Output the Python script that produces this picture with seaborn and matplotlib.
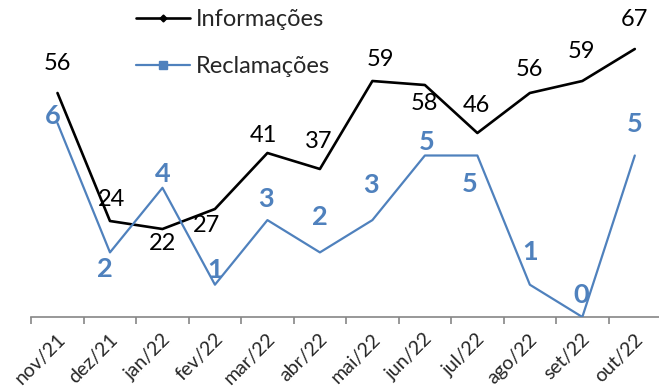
import matplotlib
matplotlib.use("Agg")
import matplotlib.pyplot as plt
from matplotlib.lines import Line2D
from matplotlib.transforms import ScaledTranslation
import seaborn as sns
import pandas as pd

# ---- data ----
meses = ["nov/21", "dez/21", "jan/22", "fev/22", "mar/22", "abr/22",
         "mai/22", "jun/22", "jul/22", "ago/22", "set/22", "out/22"]
informacoes = [56, 24, 22, 27, 41, 37, 59, 58, 46, 56, 59, 67]
reclamacoes = [6, 2, 4, 1, 3, 2, 3, 5, 5, 1, 0, 5]

# label offsets (pixels, x right / y up) - styling only
off_info = [(0, 30), (2, 21), (0, -14), (-8, -16), (-4, 18), (-1, 28),
            (8, 22), (0, -19), (-1, 28), (0, 23), (-1, 29), (0, 29)]
off_recl = [(-5, 7), (-5, -17), (0, 14), (0, 15), (-1, 21), (0, 35),
            (-1, 35), (2, 14), (-8, -28), (0, 33), (-1, 22), (0, 32)]

sns.set_style("white")
plt.rcParams["font.family"] = ["Lato", "DejaVu Sans"]

BLACK = "#000000"
BLUE = "#4F81BD"
GRAY = "#868686"

df = pd.DataFrame({"mes": range(len(meses)), "info": informacoes, "recl": reclamacoes})

W, H = 659, 388
fig = plt.figure(figsize=(W / 100, H / 100), dpi=100)
ax = fig.add_axes([31.25 / W, 71 / H, 629.8 / W, 317 / H])
ax2 = ax.twinx()

sns.lineplot(data=df, x="mes", y="info", ax=ax, color=BLACK, linewidth=1.9, legend=False)
sns.lineplot(data=df, x="mes", y="recl", ax=ax2, color=BLUE, linewidth=1.6, legend=False)

ax.set_xlim(-0.5, len(meses) - 0.5)
ax.set_ylim(0, 317 / 4.0)
ax2.set_ylim(0, 317 / 32.3)

for a in (ax, ax2):
    for s in ("top", "right", "left"):
        a.spines[s].set_visible(False)
    a.set_ylabel("")
    a.set_xlabel("")
    a.set_yticks([])
ax2.spines["bottom"].set_visible(False)
ax.spines["bottom"].set_color(GRAY)
ax.spines["bottom"].set_linewidth(1.2)

ax.set_xticks([i - 0.5 for i in range(len(meses) + 1)])
ax.set_xticklabels([])
ax.tick_params(axis="x", which="major", length=5, width=1.2, color=GRAY, direction="out", bottom=True)
ax.set_xticks(range(len(meses)), minor=True)
ax.set_xticklabels(meses, minor=True, rotation=45, ha="right", va="center",
                   rotation_mode="anchor", fontsize=14)
ax.tick_params(axis="x", which="minor", length=0, pad=14)
shift = ScaledTranslation(5 / 100, 0, fig.dpi_scale_trans)
for lbl in ax.get_xticklabels(minor=True):
    lbl.set_transform(lbl.get_transform() + shift)

px = 0.72
for i, v in enumerate(informacoes):
    dx, dy = off_info[i]
    ax.annotate(str(v), (i, v), xytext=(dx * px, dy * px), textcoords="offset points",
                ha="center", va="center", fontsize=17, color=BLACK)
for i, v in enumerate(reclamacoes):
    dx, dy = off_recl[i]
    ax2.annotate(str(v), (i, v), xytext=(dx * px, dy * px), textcoords="offset points",
                 ha="center", va="center", fontsize=19.5, color=BLUE, fontweight="bold")

handles = [
    Line2D([], [], color=BLACK, linewidth=1.9, marker="D", markersize=3.5),
    Line2D([], [], color=BLUE, linewidth=1.6, marker="s", markersize=6),
]
fig.legend(handles, ["Informações", "Reclamações"], loc="upper left",
           bbox_to_anchor=(136 / W, 1 - 9 / H), frameon=False, fontsize=17,
           handlelength=2.3, handletextpad=0.25, labelspacing=1.1, borderpad=0,
           borderaxespad=0)

fig.savefig("out.png", dpi=100)
